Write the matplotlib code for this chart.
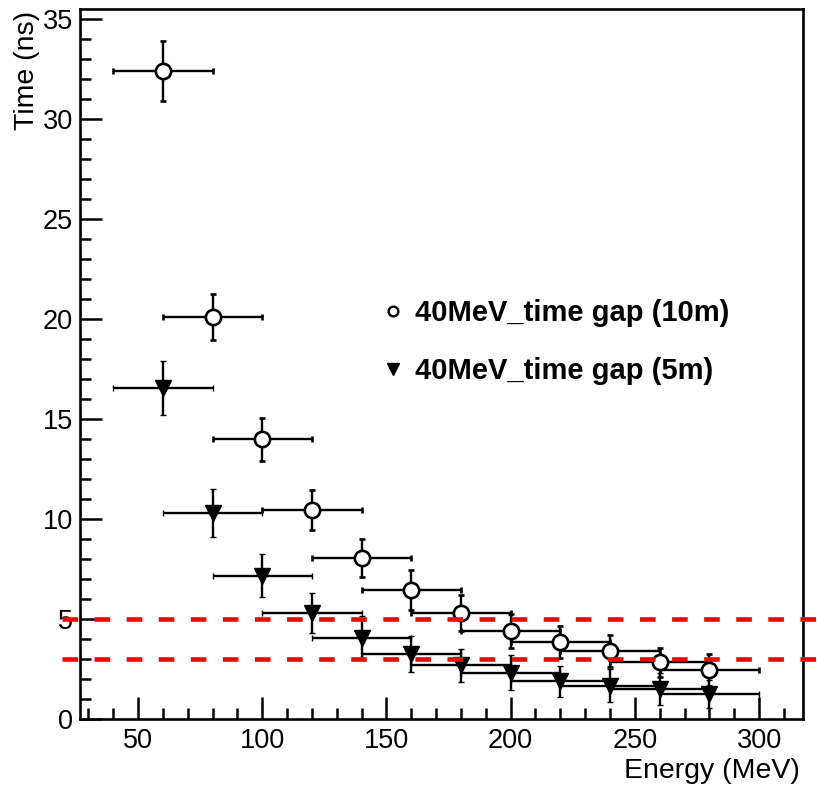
import matplotlib
matplotlib.use("Agg")
import matplotlib.pyplot as plt
from matplotlib.lines import Line2D
from matplotlib.ticker import MultipleLocator

plt.rcParams['font.family'] = ['Liberation Sans', 'DejaVu Sans']

# energy bins (MeV), half width of the bins
energy = [60, 80, 100, 120, 140, 160, 180, 200, 220, 240, 260, 280]
energy_err = [20] * len(energy)

# time gap at 10 m (open circles)
gap_10m = [32.4, 20.1, 14.0, 10.45, 8.05, 6.47, 5.33, 4.43, 3.87, 3.42, 2.85, 2.48]
gap_10m_err = [1.5, 1.15, 1.07, 1.0, 0.95, 1.0, 0.9, 0.85, 0.8, 0.8, 0.72, 0.8]

# time gap at 5 m (filled triangles)
gap_5m = [16.55, 10.3, 7.17, 5.3, 4.08, 3.25, 2.7, 2.32, 1.9, 1.67, 1.5, 1.27]
gap_5m_err = [1.35, 1.2, 1.07, 1.0, 1.1, 0.9, 0.83, 0.87, 0.77, 0.83, 0.8, 0.7]

# red dashed reference levels (ns) and their extent in energy
levels = [5, 3]
level_span = [19.5, 330]

labels = ["40MeV_time gap (10m)", "40MeV_time gap (5m)"]

fig = plt.figure(figsize=(8.17, 7.86), dpi=100)
ax = fig.add_axes([80/817, 1 - 719.3/786, 723/817, 710.3/786])

ax.errorbar(energy, gap_5m, xerr=energy_err, yerr=gap_5m_err, fmt='v',
            color='black', ms=11, mew=1, elinewidth=1.7,
            capsize=2.3, capthick=1.7, zorder=3)
ax.errorbar(energy, gap_10m, xerr=energy_err, yerr=gap_10m_err, fmt='o',
            color='black', mfc='white', mec='black', ms=11, mew=1.9,
            elinewidth=1.7, capsize=2.3, capthick=1.7, zorder=4)

for lv in levels:
    ax.plot(level_span, [lv, lv], color='red', lw=3.3,
            dashes=(3.4, 3.6), clip_on=False, zorder=6)

ax.set_xlim(26.65, 317.7)
ax.set_ylim(0, 35.5)

ax.xaxis.set_major_locator(MultipleLocator(50))
ax.xaxis.set_minor_locator(MultipleLocator(10))
ax.yaxis.set_major_locator(MultipleLocator(5))
ax.yaxis.set_minor_locator(MultipleLocator(1))

ax.tick_params(which='both', direction='in', top=False, right=False,
               width=1.8, labelsize=19.5)
ax.tick_params(which='major', length=15.6)
ax.tick_params(which='minor', length=7.9)
ax.tick_params(axis='x', pad=6)
ax.tick_params(axis='y', pad=5)
for sp in ax.spines.values():
    sp.set_linewidth(1.9)

fig.text(800/817, 1 - 778/786, "Energy (MeV)", ha='right', va='baseline',
         fontsize=20.5)
fig.text(27/817, 1 - 11/786, "Time (ns)", rotation=90, ha='center',
         va='top', fontsize=20.5)

handles = [
    Line2D([], [], ls='none', marker='o', ms=7, mfc='white', mec='black', mew=1.7),
    Line2D([], [], ls='none', marker='v', ms=9, color='black'),
]
ax.legend(handles, labels, loc='upper left',
          bbox_to_anchor=((378.5 - 80)/723, (719.3 - 299)/710.3),
          frameon=False, handlelength=1.0, handletextpad=0.25,
          borderpad=0, borderaxespad=0, labelspacing=1.02,
          prop={'weight': 'bold', 'size': 21})

fig.savefig("out.png", dpi=100)
